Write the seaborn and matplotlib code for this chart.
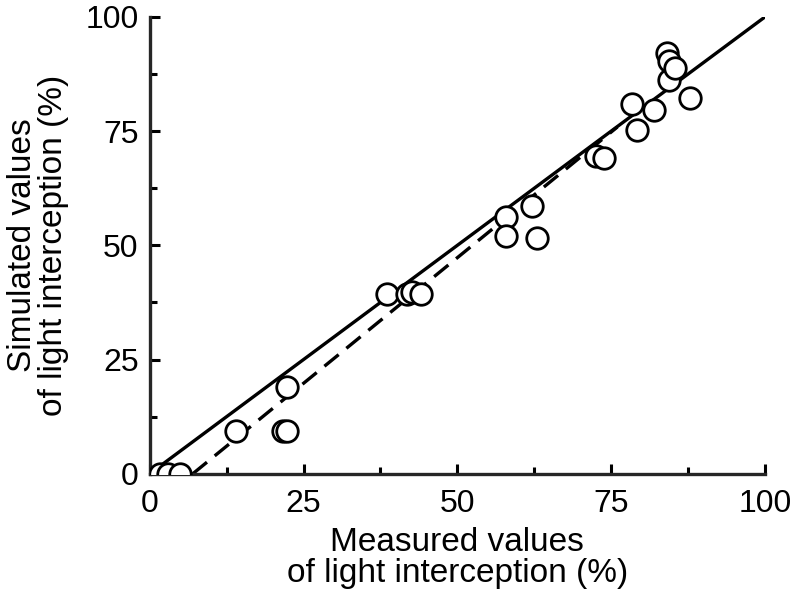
import matplotlib
matplotlib.use("Agg")
import matplotlib.pyplot as plt
import seaborn as sns
import pandas as pd
from matplotlib.ticker import MultipleLocator

measured = [1.6, 2.9, 4.9, 14.0, 21.6, 22.3, 22.3, 38.5, 41.8, 42.6, 44.1,
            57.9, 57.9, 62.1, 62.9, 72.6, 73.8, 78.4, 79.2, 82.0, 84.1, 84.4,
            84.4, 85.4, 87.8]
simulated = [0.0, 0.0, 0.0, 9.4, 9.3, 9.3, 19.0, 39.4, 39.4, 39.8, 39.4,
             56.2, 52.1, 58.5, 51.6, 69.5, 69.1, 81.0, 75.3, 79.6, 92.0, 90.3,
             86.2, 88.8, 82.3]

one_to_one_x = [0, 100]
one_to_one_y = [0, 100]
fit_x = [7.0, 76.0]
fit_y = [0.0, 75.9]

sns.set_style("ticks")
plt.rcParams['font.family'] = ['Liberation Sans', 'DejaVu Sans']
plt.rcParams['text.color'] = 'black'
plt.rcParams['axes.labelcolor'] = 'black'
plt.rcParams['xtick.color'] = 'black'
plt.rcParams['ytick.color'] = 'black'

fig = plt.figure(figsize=(7.92, 6.02), dpi=100)
ax = fig.add_axes([0.189, 0.213, 0.777, 0.759])

pts = pd.DataFrame({"measured": measured, "simulated": simulated})
sns.lineplot(x=one_to_one_x, y=one_to_one_y, ax=ax, color="black", lw=2.4)
sns.lineplot(x=fit_x, y=fit_y, ax=ax, color="black", lw=2.4,
             linestyle=(0, (5.5, 3)))
sns.scatterplot(data=pts, x="measured", y="simulated", ax=ax, s=240,
                facecolor="white", edgecolor="black", linewidth=2.0,
                zorder=3)

ax.set_xlim(0, 100)
ax.set_ylim(0, 100)
ax.xaxis.set_major_locator(MultipleLocator(25))
ax.yaxis.set_major_locator(MultipleLocator(25))
ax.xaxis.set_minor_locator(MultipleLocator(12.5))
ax.yaxis.set_minor_locator(MultipleLocator(12.5))
ax.tick_params(which="major", direction="in", length=7, width=2.2,
               labelsize=23)
ax.tick_params(which="minor", direction="in", length=5, width=2.2)
ax.tick_params(axis="x", which="major", pad=11)
ax.tick_params(axis="y", which="major", pad=8)
for s in ["top", "right"]:
    ax.spines[s].set_visible(False)
for s in ["left", "bottom"]:
    ax.spines[s].set_linewidth(2.4)

lab = dict(fontsize=24, linespacing=1.0)
ax.set_xlabel("Measured values\nof light interception (%)", labelpad=6, **lab)
ax.set_ylabel("Simulated values\nof light interception (%)", labelpad=12, **lab)

fig.savefig("out.png", dpi=100)
